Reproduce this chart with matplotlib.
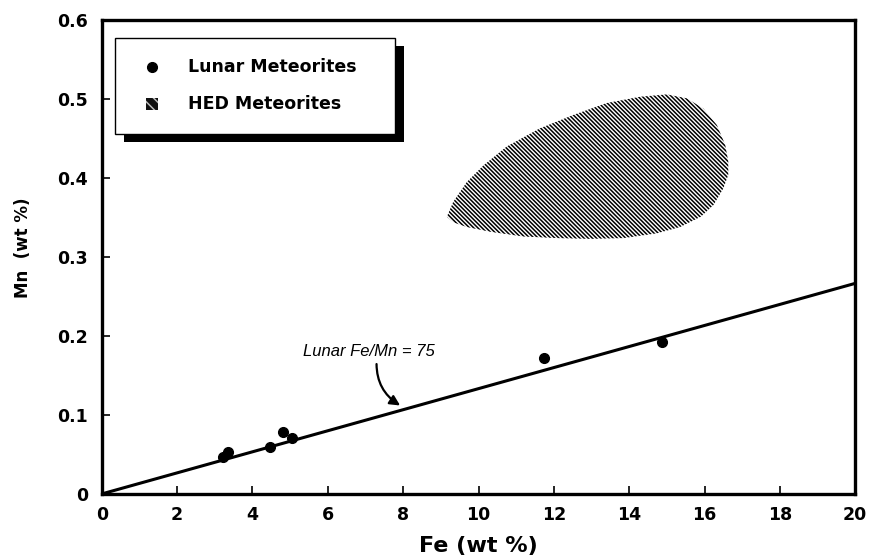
import matplotlib
matplotlib.use("Agg")
import matplotlib.pyplot as plt
from matplotlib.patches import Polygon, Rectangle
import numpy as np

plt.rcParams['font.family'] = ['DejaVu Sans']
plt.rcParams['hatch.linewidth'] = 1.1

# Lunar meteorite analyses (Fe, Mn in wt %)
lunar_fe = [3.21, 3.35, 4.46, 4.81, 5.05, 11.74, 14.87]
lunar_mn = [0.047, 0.053, 0.060, 0.078, 0.071, 0.172, 0.192]

# Lunar Fe/Mn ratio line
fe_mn_ratio = 75
line_fe = np.array([0, 20])

# HED meteorite field outline
hed_fe = [9.16, 9.33, 9.69, 10.13, 10.75, 11.63, 12.52, 13.40, 14.29, 15.00,
          15.53, 15.97, 16.33, 16.55, 16.63, 16.63, 16.50, 16.24, 15.90, 15.35,
          14.73, 13.85, 12.96, 12.08, 11.19, 10.31, 9.69, 9.33]
hed_mn = [0.351, 0.370, 0.395, 0.416, 0.440, 0.463, 0.480, 0.495, 0.503, 0.506,
          0.501, 0.488, 0.467, 0.442, 0.421, 0.404, 0.387, 0.366, 0.351, 0.338,
          0.330, 0.324, 0.323, 0.324, 0.326, 0.332, 0.338, 0.344]

x_ticks = [0, 2, 4, 6, 8, 10, 12, 14, 16, 18, 20]
y_ticks = [0, 0.1, 0.2, 0.3, 0.4, 0.5, 0.6]
y_tick_labels = ['0', '0.1', '0.2', '0.3', '0.4', '0.5', '0.6']

legend_labels = ['Lunar Meteorites', 'HED Meteorites']

fig = plt.figure(figsize=(8.7, 5.6), dpi=100)
ax = fig.add_axes([0.117, 0.118, 0.866, 0.846])

# HED field
hed = Polygon(np.column_stack([hed_fe, hed_mn]), closed=True,
              facecolor='white', edgecolor='black', linewidth=0,
              hatch='\\' * 8)
ax.add_patch(hed)

# Fe/Mn = 75 line
ax.plot(line_fe, line_fe / fe_mn_ratio, color='black', lw=2.2)

# data points
ax.plot(lunar_fe, lunar_mn, 'o', color='black', markersize=7)

# annotation with curved arrow
ax.annotate('Lunar Fe/Mn = 75', xy=(7.92, 0.112), xytext=(5.34, 0.181),
            fontsize=12, style='italic', ha='left', va='center',
            family='Liberation Sans',
            arrowprops=dict(arrowstyle='-|>', color='black', lw=1.6,
                            mutation_scale=15, shrinkA=2, shrinkB=0,
                            connectionstyle='arc3,rad=0.3',
                            relpos=(0.56, 0.0)))

ax.set_xlim(0, 20)
ax.set_ylim(0, 0.6)
ax.set_xticks(x_ticks)
ax.set_yticks(y_ticks)
ax.set_yticklabels(y_tick_labels)
ax.tick_params(direction='in', length=6, width=1.2, labelsize=12.5)
ax.tick_params(axis='x', pad=9)
ax.tick_params(axis='y', pad=10)
for lab in ax.get_xticklabels() + ax.get_yticklabels():
    lab.set_fontweight('bold')
for sp in ax.spines.values():
    sp.set_linewidth(2.4)

ax.set_xlabel('Fe (wt %)', fontsize=16, fontweight='bold')
ax.xaxis.set_label_coords(0.5, -0.088)
ax.set_ylabel('Mn  (wt %)', fontsize=12, fontweight='bold')
ax.yaxis.set_label_coords(-0.093, 0.52)

# legend box drawn by hand (white frame with heavy drop shadow)
ax.add_patch(Rectangle((0.0293, 0.7426), 0.3718, 0.2025, transform=ax.transAxes,
                       facecolor='black', edgecolor='none', zorder=5))
ax.add_patch(Rectangle((0.0173, 0.7595), 0.3718, 0.2025, transform=ax.transAxes,
                       facecolor='white', edgecolor='black', linewidth=1.0, zorder=6))
ax.plot([0.0664], [0.901], 'o', color='black', markersize=7,
        transform=ax.transAxes, zorder=7, clip_on=False)
ax.add_patch(Rectangle((0.0584, 0.810), 0.0159, 0.0253, transform=ax.transAxes,
                       facecolor='#111111', edgecolor='#bbbbbb', linewidth=0,
                       hatch='\\' * 3, zorder=7))
ax.text(0.1142, 0.901, legend_labels[0], transform=ax.transAxes, fontsize=12.5,
        fontweight='bold', va='center', ha='left', zorder=7)
ax.text(0.1142, 0.823, legend_labels[1], transform=ax.transAxes, fontsize=12.5,
        fontweight='bold', va='center', ha='left', zorder=7)

fig.savefig('out.png', dpi=100)
